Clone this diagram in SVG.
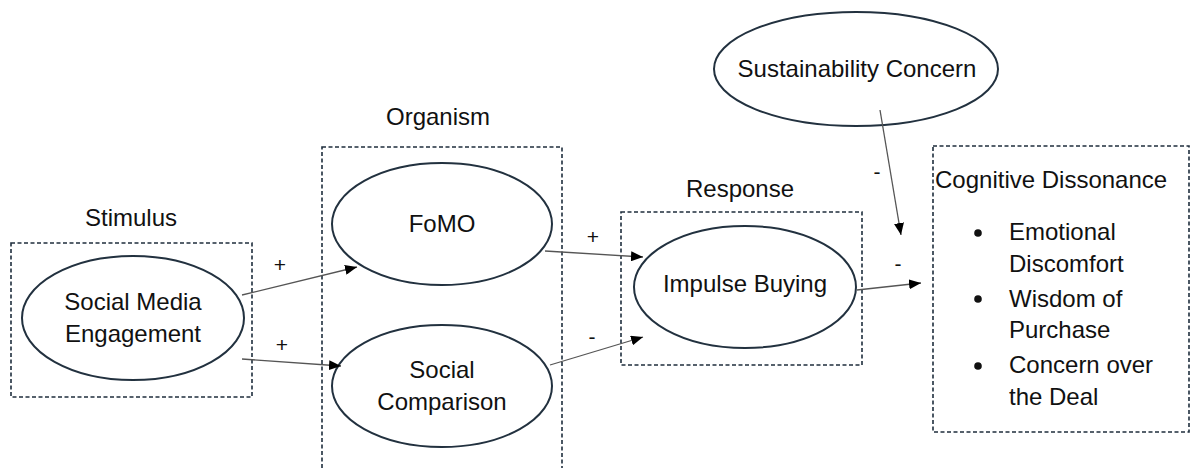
<svg xmlns="http://www.w3.org/2000/svg" width="1195" height="468" viewBox="0 0 1195 468">
<style>
.box{fill:none;stroke:#1f2e3d;stroke-width:1.6;stroke-dasharray:4 2.5}
.node{fill:#fff;stroke:#22313f;stroke-width:2}
.t{font-family:"Liberation Sans",Arial,sans-serif;font-size:24px;fill:#111;text-anchor:middle}
.tl{font-family:"Liberation Sans",Arial,sans-serif;font-size:24px;fill:#111}
.sign{font-family:"Liberation Sans",Arial,sans-serif;font-size:21px;fill:#111;text-anchor:middle}
.edge{stroke:#555;stroke-width:1.3;fill:none;marker-end:url(#arr)}
</style>
<defs>
<marker id="arr" viewBox="0 0 12 10" refX="12" refY="5" markerWidth="12" markerHeight="10" markerUnits="userSpaceOnUse" orient="auto">
<path d="M0,0 L12,5 L0,10 Z" fill="#000"/>
</marker>
</defs>
<rect width="1195" height="468" fill="#fff"/>

<g id="stimulus">
<text class="t" x="131" y="226">Stimulus</text>
<rect class="box" x="11" y="243" width="241" height="154"/>
<ellipse class="node" cx="133" cy="318" rx="111" ry="62"/>
<text class="t" x="133" y="310">Social Media</text>
<text class="t" x="133" y="342">Engagement</text>
</g>

<g id="organism">
<text class="t" x="438" y="125">Organism</text>
<rect class="box" x="322" y="147" width="240" height="330"/>
</g>

<g id="fomo">
<ellipse class="node" cx="442" cy="224" rx="110" ry="61"/>
<text class="t" x="442" y="232">FoMO</text>
</g>

<g id="social-comparison">
<ellipse class="node" cx="442" cy="386" rx="110" ry="61"/>
<text class="t" x="442" y="378">Social</text>
<text class="t" x="442" y="410">Comparison</text>
</g>

<g id="response">
<text class="t" x="740" y="197">Response</text>
<rect class="box" x="621" y="212" width="241" height="153"/>
<ellipse class="node" cx="745" cy="287" rx="111" ry="61"/>
<text class="t" x="745" y="292">Impulse Buying</text>
</g>

<g id="sustainability">
<ellipse class="node" cx="856" cy="69" rx="142" ry="57"/>
<text class="t" x="857" y="77">Sustainability Concern</text>
</g>

<g id="cognitive-dissonance">
<rect class="box" x="933" y="146" width="256" height="286"/>
<text class="tl" x="935" y="188">Cognitive Dissonance</text>
<circle cx="978" cy="233" r="3.8" fill="#111"/>
<circle cx="978" cy="299" r="3.8" fill="#111"/>
<circle cx="978" cy="366" r="3.8" fill="#111"/>
<text class="tl" x="1009" y="240">Emotional</text>
<text class="tl" x="1009" y="272">Discomfort</text>
<text class="tl" x="1009" y="307">Wisdom of</text>
<text class="tl" x="1009" y="338">Purchase</text>
<text class="tl" x="1009" y="373">Concern over</text>
<text class="tl" x="1009" y="405">the Deal</text>
</g>

<g id="connectors">
<line class="edge" x1="242" y1="295" x2="357" y2="267"/>
<line class="edge" x1="242" y1="359" x2="341" y2="366"/>
<line class="edge" x1="545" y1="251" x2="643" y2="257"/>
<line class="edge" x1="550" y1="365" x2="643" y2="337"/>
<line class="edge" x1="857" y1="290" x2="921" y2="283"/>
<line class="edge" x1="880" y1="110" x2="901" y2="235"/>
<text class="sign" x="280" y="272">+</text>
<text class="sign" x="282" y="352">+</text>
<text class="sign" x="593" y="244">+</text>
<text class="sign" x="592" y="344">-</text>
<text class="sign" x="898" y="271">-</text>
<text class="sign" x="877" y="179">-</text>
</g>
</svg>
